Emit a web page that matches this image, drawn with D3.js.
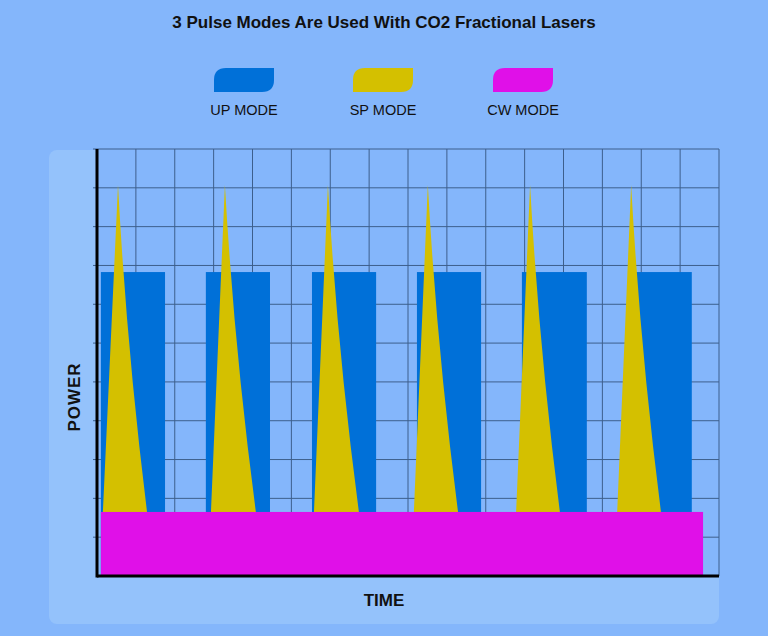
<!DOCTYPE html>
<html><head><meta charset="utf-8">
<script src="https://cdn.jsdelivr.net/npm/d3@7"></script>
<style>body{margin:0;background:#84b6fb;}svg{display:block;font-family:"Liberation Sans",Arial,sans-serif;}</style>
</head><body><svg id="c" width="768" height="636"></svg>
<script>
const title = "3 Pulse Modes Are Used With CO2 Fractional Lasers";
const seriesNames = ["UP MODE","SP MODE","CW MODE"];
const colors = ["#0070d8","#d4c000","#e010e8"];
// UP mode bars: [start, end] in time units, power level
const upStart = [0.1, 2.8, 5.53, 8.23, 10.93, 13.66];
const upEnd   = [1.75, 4.45, 7.18, 9.88, 12.6, 15.3];
const upPower = 7.83;
// SP mode spikes: left base, peak, right base (base measured at CW level)
const spLeft  = [0.15, 2.93, 5.58, 8.15, 10.78, 13.38];
const spPeak  = [0.54, 3.29, 5.94, 8.51, 11.14, 13.74];
const spRight = [1.29, 4.09, 6.74, 9.29, 11.91, 14.51];
const spPower = 10.07;
// CW mode continuous
const cwStart = 0.1, cwEnd = 15.59, cwPower = 1.65;
const xMax = 16, yMax = 11;

const svg = d3.select("#c");
const L=97,R=719,T=149,B=576;
const x = d3.scaleLinear().domain([0,xMax]).range([L,R]);
const y = d3.scaleLinear().domain([0,yMax]).range([B,T]);

svg.append("rect").attr("x",49).attr("y",150).attr("width",670).attr("height",474).attr("rx",8).attr("fill","#94c2fb");
svg.append("rect").attr("x",L).attr("y",T).attr("width",R-L).attr("height",B-T).attr("fill","#84b6fb");

svg.append("text").attr("x",384).attr("y",28).attr("text-anchor","middle").attr("font-size",17).attr("font-weight","bold").attr("fill","#111").text(title);

// grid
const g = svg.append("g").attr("stroke","#3d5f8c").attr("stroke-width",1);
d3.range(1,xMax+1).forEach(v=>g.append("line").attr("x1",x(v)).attr("x2",x(v)).attr("y1",T).attr("y2",B));
d3.range(1,yMax+1).forEach(v=>g.append("line").attr("x1",L-4).attr("x2",R).attr("y1",y(v)).attr("y2",y(v)));

// UP bars
svg.append("g").selectAll("rect").data(upStart).join("rect")
 .attr("x",(d)=>x(d)).attr("width",(d,i)=>x(upEnd[i])-x(d))
 .attr("y",y(upPower)).attr("height",y(0)-y(upPower)).attr("fill",colors[0]);
// SP spikes
svg.append("g").selectAll("path").data(spPeak).join("path")
 .attr("d",(d,i)=>{const b=y(cwPower)+1,p=y(spPower);
   return `M${x(spLeft[i])},${b}L${x(d)},${p}Q${x(d)+ (x(spRight[i])-x(d))*0.3},${(b+p)/2} ${x(spRight[i])},${b}Z`;})
 .attr("fill",colors[1]);
// CW
svg.append("rect").attr("x",x(cwStart)).attr("width",x(cwEnd)-x(cwStart)).attr("y",y(cwPower)).attr("height",y(0)-y(cwPower)).attr("fill",colors[2]);

// axes
svg.append("line").attr("x1",L).attr("x2",L).attr("y1",T).attr("y2",B+1.5).attr("stroke","#000").attr("stroke-width",3);
svg.append("line").attr("x1",L).attr("x2",R).attr("y1",B).attr("y2",B).attr("stroke","#000").attr("stroke-width",3);

svg.append("text").attr("x",384).attr("y",606).attr("text-anchor","middle").attr("font-size",17).attr("font-weight","bold").attr("fill","#111").text("TIME");
svg.append("text").attr("transform","translate(80,397) rotate(-90)").attr("text-anchor","middle").attr("font-size",17).attr("font-weight","bold").attr("letter-spacing",1).attr("fill","#111").text("POWER");

// legend
const lx=[214,353,493];
seriesNames.forEach((n,i)=>{
  const X=lx[i],Y=68,w=60,h=24,r=12;
  svg.append("path").attr("d",`M${X},${Y+h}L${X},${Y+r}Q${X},${Y} ${X+r},${Y}L${X+w},${Y}L${X+w},${Y+h-r}Q${X+w},${Y+h} ${X+w-r},${Y+h}Z`).attr("fill",colors[i]);
  svg.append("text").attr("x",X+w/2).attr("y",115).attr("text-anchor","middle").attr("font-size",14.5).attr("fill","#111").text(n);
});
</script></body></html>
